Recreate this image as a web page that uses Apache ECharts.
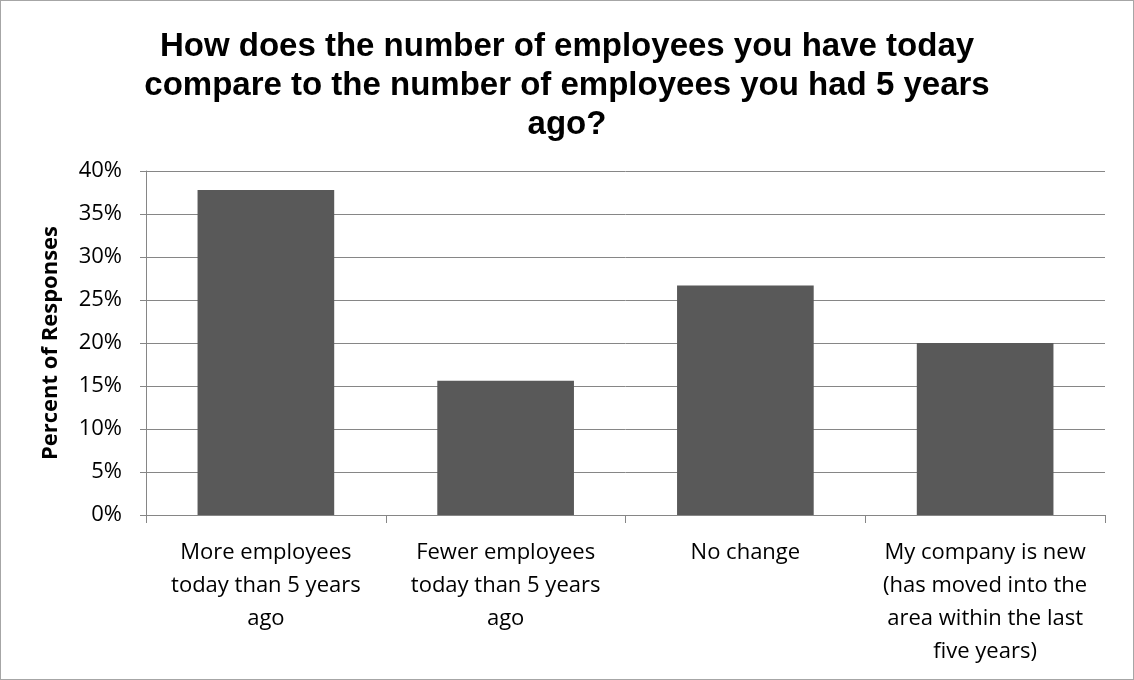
<!DOCTYPE html>
<html>
<head>
<meta charset="utf-8">
<script src="https://cdn.jsdelivr.net/npm/echarts@6/dist/echarts.min.js"></script>
<style>
  html, body { margin: 0; padding: 0; background: #fff; }
  #chart { width: 1134px; height: 680px; box-sizing: border-box; border: 1px solid #a6a6a6; }
</style>
</head>
<body>
<div id="chart"></div>
<script>
// Survey responses: change in headcount over the last five years
const categories = [
  'More employees\ntoday than 5 years\nago',
  'Fewer employees\ntoday than 5 years\nago',
  'No change',
  'My company is new\n(has moved into the\narea within the last\nfive years)'
];
const percentValues = [37.8, 15.6, 26.7, 20.0];
const yTicks = { min: 0, max: 40, step: 5 };
const titleText = 'How does the number of employees you have today\ncompare to the number of employees you had 5 years\nago?';
const yAxisTitle = 'Percent of Responses';

const chart = echarts.init(document.getElementById('chart'), null, { renderer: 'canvas' });
const labelFont = 'Open Sans, Lato, sans-serif';

chart.setOption({
  backgroundColor: '#ffffff',
  animation: false,
  title: {
    text: titleText,
    left: 'center',
    top: 21,
    textStyle: {
      fontFamily: 'Liberation Sans, Arial, sans-serif',
      fontWeight: 'bold',
      fontSize: 33,
      lineHeight: 39,
      color: '#000'
    }
  },
  grid: { left: 145, right: 28, top: 170, bottom: 164, containLabel: false },
  xAxis: {
    type: 'category',
    data: categories,
    axisLine: { lineStyle: { color: '#868686', width: 1 } },
    axisTick: { show: true, alignWithLabel: false, length: 8, lineStyle: { color: '#868686' } },
    axisLabel: {
      interval: 0,
      margin: 21,
      fontFamily: labelFont,
      fontSize: 22,
      lineHeight: 33,
      color: '#000',
      align: 'center'
    }
  },
  yAxis: {
    type: 'value',
    min: yTicks.min,
    max: yTicks.max,
    interval: yTicks.step,
    name: yAxisTitle,
    nameLocation: 'middle',
    nameGap: 84,
    nameTextStyle: {
      fontFamily: labelFont,
      fontWeight: 'bold',
      fontSize: 22,
      color: '#000'
    },
    axisLine: { show: true, lineStyle: { color: '#868686', width: 1 } },
    axisTick: { show: true, length: 6, lineStyle: { color: '#868686' } },
    splitLine: { show: true, lineStyle: { color: '#868686', width: 1 } },
    axisLabel: {
      margin: 24,
      fontFamily: labelFont,
      fontSize: 22,
      color: '#000',
      formatter: v => v + '%'
    }
  },
  series: [{
    type: 'bar',
    data: percentValues,
    barWidth: '57%',
    itemStyle: { color: '#595959' }
  }]
});
</script>
</body>
</html>
